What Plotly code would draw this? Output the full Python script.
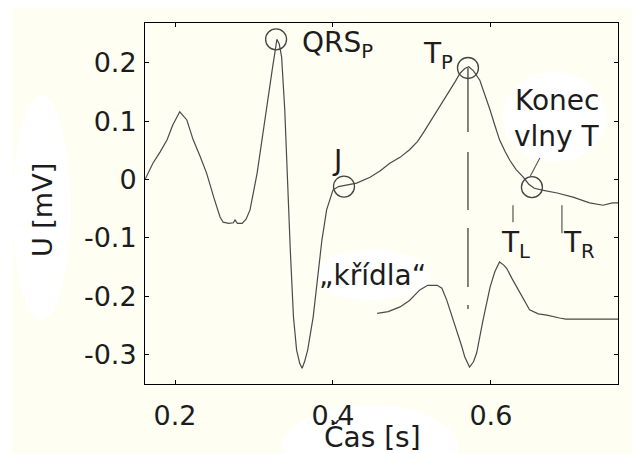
import plotly.graph_objects as go

# main ECG beat
ecg_t = [0.162, 0.172, 0.181, 0.190, 0.197, 0.206, 0.215, 0.223, 0.232, 0.240,
         0.249, 0.257, 0.261, 0.268, 0.274, 0.276, 0.279, 0.285, 0.290, 0.295,
         0.304, 0.311, 0.318, 0.323, 0.327, 0.329, 0.332, 0.335, 0.339, 0.342,
         0.346, 0.350, 0.354, 0.358, 0.361, 0.364, 0.368, 0.375, 0.381, 0.386,
         0.392, 0.400, 0.407, 0.415, 0.422, 0.430, 0.447, 0.460, 0.472, 0.485,
         0.497, 0.507, 0.514, 0.523, 0.532, 0.540, 0.548, 0.555, 0.561, 0.567,
         0.572, 0.578, 0.586, 0.592, 0.599, 0.605, 0.611, 0.618, 0.624, 0.632,
         0.641, 0.648, 0.655, 0.665, 0.684, 0.704, 0.716, 0.725, 0.742, 0.754,
         0.766]
ecg_u = [0.000, 0.028, 0.047, 0.068, 0.093, 0.116, 0.102, 0.068, 0.039, 0.011,
         -0.030, -0.064, -0.073, -0.075, -0.074, -0.069, -0.075, -0.075, -0.068, -0.052,
         0.011, 0.079, 0.141, 0.187, 0.222, 0.240, 0.232, 0.210, 0.119, 0.000,
         -0.121, -0.235, -0.292, -0.315, -0.323, -0.312, -0.292, -0.235, -0.167, -0.104,
         -0.052, -0.018, -0.012, -0.010, -0.008, -0.006, 0.004, 0.015, 0.028, 0.038,
         0.051, 0.065, 0.079, 0.098, 0.119, 0.136, 0.153, 0.168, 0.182, 0.190,
         0.193, 0.186, 0.170, 0.148, 0.119, 0.093, 0.068, 0.048, 0.033, 0.017,
         0.004, -0.008, -0.015, -0.018, -0.023, -0.030, -0.036, -0.040, -0.044, -0.040,
         -0.040]

# "wings" curve under the T wave
wing_t = [0.456, 0.470, 0.485, 0.497, 0.510, 0.520, 0.532, 0.538, 0.544, 0.550,
          0.557, 0.563, 0.567, 0.573, 0.578, 0.582, 0.590, 0.599, 0.605, 0.611,
          0.616, 0.620, 0.627, 0.633, 0.641, 0.649, 0.660, 0.671, 0.687, 0.695,
          0.766]
wing_u = [-0.229, -0.226, -0.218, -0.207, -0.189, -0.181, -0.181, -0.186, -0.206, -0.230,
          -0.258, -0.285, -0.304, -0.321, -0.312, -0.297, -0.241, -0.184, -0.158, -0.141,
          -0.146, -0.152, -0.170, -0.184, -0.205, -0.223, -0.230, -0.232, -0.237, -0.239,
          -0.239]

# marked points: QRS peak, J, T peak, end of T wave
point_names = ["QRS_P", "J", "T_P", "konec"]
point_t = [0.328, 0.414, 0.571, 0.652]
point_u = [0.240, -0.012, 0.191, -0.013]

# T_L, T_R limits
limit_t = [0.628, 0.690]
limit_top = [-0.044, -0.044]
limit_bottom = [-0.073, -0.092]

xticks = [0.2, 0.4, 0.6]
yticks = [0.2, 0.1, 0, -0.1, -0.2, -0.3]
ytick_text = ["0.2", "0.1", "0", "-0.1", "-0.2", "-0.3"]

FONT = "DejaVu Sans"
INK = "#1c1c1c"
CURVE = "#4a4a4a"
BG = "#fefef3"

fig = go.Figure()

fig.add_trace(go.Scatter(x=ecg_t, y=ecg_u, mode="lines",
                         line=dict(color=CURVE, width=1.2)))
fig.add_trace(go.Scatter(x=wing_t, y=wing_u, mode="lines",
                         line=dict(color=CURVE, width=1.2)))

# dash-dot line down from the T peak
fig.add_trace(go.Scatter(x=[point_t[2], point_t[2]], y=[point_u[2], -0.222], mode="lines",
                         line=dict(color="#333333", width=1.2,
                                   dash="64px,20px,58px,18px,59px,18px,4px,200px")))

for t, a, b in zip(limit_t, limit_top, limit_bottom):
    fig.add_trace(go.Scatter(x=[t, t], y=[a, b], mode="lines",
                             line=dict(color="#555555", width=1.2)))

# leader line for "Konec vlny T"
fig.add_trace(go.Scatter(x=[0.662, 0.650], y=[0.037, 0.006], mode="lines",
                         line=dict(color="#555555", width=1.1)))

fig.add_trace(go.Scatter(x=point_t, y=point_u, mode="markers",
                         marker=dict(symbol="circle-open", size=21, color="#444444",
                                     line=dict(color="#444444", width=1.3))))

# white blobs behind some labels; given in window pixels, plot area is 145..618 x 23..384
def px2paper(x0, y0, x1, y1):
    return dict(x0=(x0 - 145) / 473, x1=(x1 - 145) / 473,
                y0=(384 - y1) / 361, y1=(384 - y0) / 361)

blobs = [(13, 95, 70, 320), (282, 405, 458, 490), (503, 72, 606, 162), (315, 250, 430, 300)]
for b in blobs:
    fig.add_shape(type="circle", xref="paper", yref="paper", layer="below",
                  fillcolor="white", line=dict(width=0), **px2paper(*b))
fig.add_shape(type="rect", xref="paper", yref="paper", layer="below",
              fillcolor="white", line=dict(width=0), **px2paper(0, 0, 13, 460))

labels = [
    (0.358, 0.232, "QRS<sub>P</sub>", "left"),
    (0.511, 0.213, "T<sub>P</sub>", "left"),
    (0.405, 0.032, "J", "center"),
    (0.6835, 0.136, "Konec", "center"),
    (0.6835, 0.073, "vlny T", "center"),
    (0.610, -0.112, "T<sub>L</sub>", "left"),
    (0.689, -0.112, "T<sub>R</sub>", "left"),
    (0.4506, -0.164, "„křídla“", "center"),
]
for x, y, txt, anchor in labels:
    fig.add_annotation(x=x, y=y, text=txt, showarrow=False, xanchor=anchor, yanchor="middle",
                       font=dict(family=FONT, size=28, color=INK))

fig.add_annotation(xref="paper", yref="paper", x=0.48, y=-0.147, text="Čas [s]",
                   xanchor="center", yanchor="middle",
                   showarrow=False, font=dict(family=FONT, size=28, color=INK))
fig.add_annotation(xref="paper", yref="paper", x=-0.2156, y=0.482, text="U [mV]",
                   xanchor="center", yanchor="middle",
                   textangle=-90, showarrow=False, font=dict(family=FONT, size=27, color=INK))

fig.update_xaxes(range=[0.162, 0.761], tickvals=xticks, ticktext=["0.2", "0.4", "0.6"],
                 ticks="inside", ticklen=4, tickcolor="black", mirror="ticks",
                 showline=True, linecolor="black", linewidth=1, showgrid=False, zeroline=False,
                 ticklabelstandoff=8,
                 tickfont=dict(family=FONT, size=27, color=INK))
fig.update_yaxes(range=[-0.350, 0.268], tickvals=yticks, ticktext=ytick_text,
                 ticks="inside", ticklen=4, tickcolor="black", mirror="ticks",
                 showline=True, linecolor="black", linewidth=1, showgrid=False, zeroline=False,
                 ticklabelstandoff=2,
                 tickfont=dict(family=FONT, size=27, color=INK))

# page body adds an 8px offset, so margins are shifted to keep the plot box in place
fig.update_layout(width=640, height=454, showlegend=False,
                  margin=dict(l=137, r=30, t=15, b=78),
                  paper_bgcolor=BG, plot_bgcolor=BG)

fig.write_html("out.html")
